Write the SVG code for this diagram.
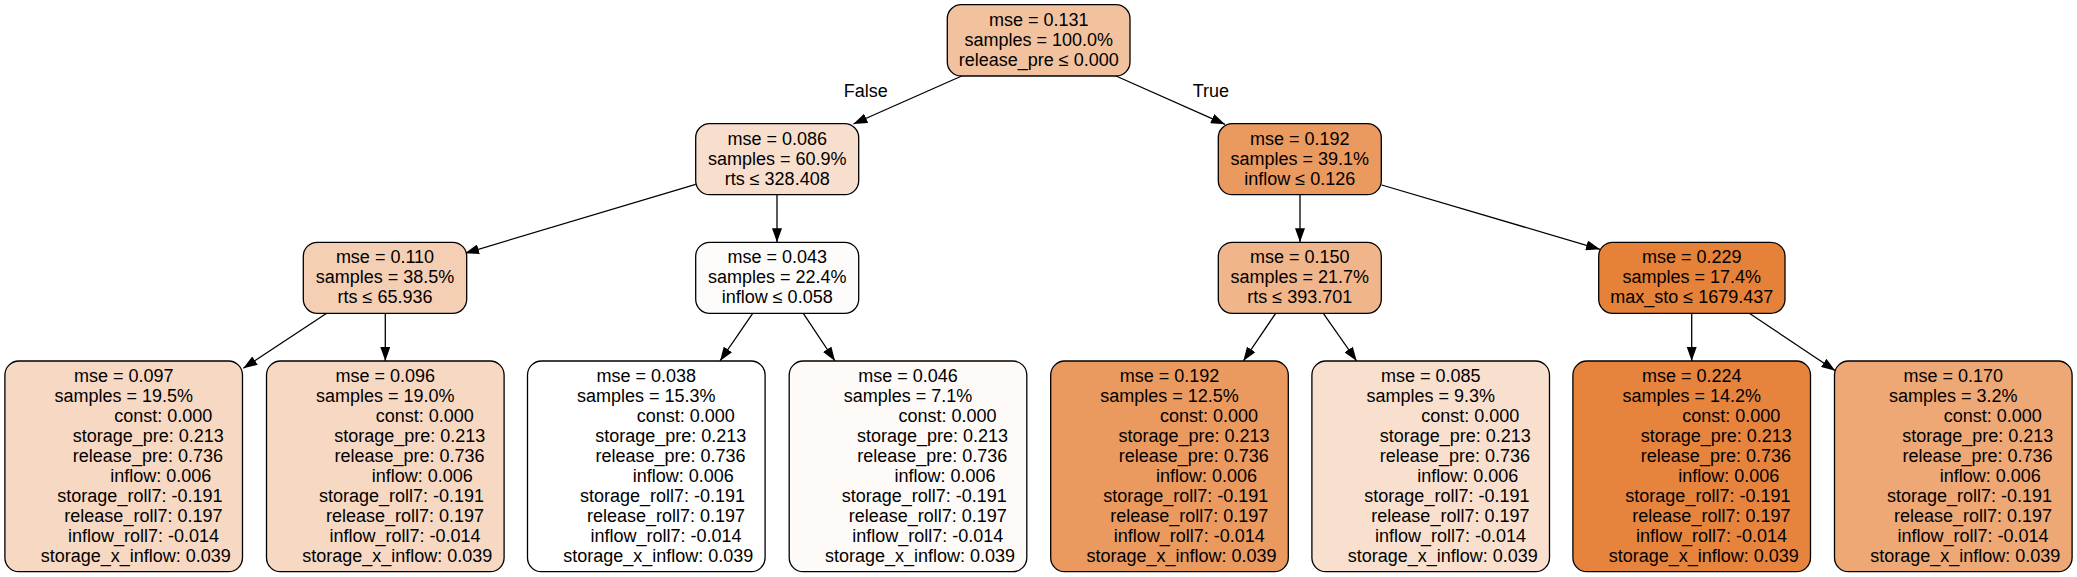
<svg xmlns="http://www.w3.org/2000/svg" width="2077" height="577" viewBox="0 0 2077 577">
<style>
  .box { stroke: #000; stroke-width: 1.3; }
  text { font-family: "Liberation Sans", Arial, Helvetica, sans-serif; font-size: 18px; fill: #000; text-anchor: middle; }
  .edge { stroke: #000; stroke-width: 1.3; fill: none; marker-end: url(#arrow); }
</style>
<defs>
  <marker id="arrow" markerUnits="userSpaceOnUse" markerWidth="14" markerHeight="10" refX="14" refY="5" orient="auto">
    <path d="M0,0 L14,5 L0,10 Z" fill="#000"/>
  </marker>
</defs>
<rect width="2077" height="577" fill="#fff"/>

<g id="connectors">
  <line class="edge" x1="961.7" y1="76" x2="853.3" y2="124"/>
  <line class="edge" x1="1116" y1="76" x2="1225" y2="124.3"/>
  <line class="edge" x1="695.7" y1="184.3" x2="465" y2="253.3"/>
  <line class="edge" x1="777" y1="194.7" x2="777" y2="242.3"/>
  <line class="edge" x1="1300" y1="194.7" x2="1300" y2="242.3"/>
  <line class="edge" x1="1381.7" y1="185" x2="1600" y2="249.3"/>
  <line class="edge" x1="326.7" y1="313.3" x2="243.3" y2="368.3"/>
  <line class="edge" x1="385.3" y1="313.3" x2="385.3" y2="361"/>
  <line class="edge" x1="752.7" y1="313.3" x2="720" y2="361"/>
  <line class="edge" x1="803.3" y1="313.3" x2="835" y2="361"/>
  <line class="edge" x1="1275.7" y1="313.3" x2="1243.3" y2="361"/>
  <line class="edge" x1="1323.3" y1="313.3" x2="1356.7" y2="361"/>
  <line class="edge" x1="1691.7" y1="313.3" x2="1691.7" y2="361"/>
  <line class="edge" x1="1749.3" y1="313.3" x2="1835.3" y2="370.7"/>
  <text x="865.8" y="97.3">False</text>
  <text x="1210.8" y="97.3">True</text>
</g>

<g id="node0">
  <rect class="box" x="947.3" y="4.7" width="182.7" height="71.3" rx="14" fill="#f2c29f"/>
  <text x="1038.7" y="25.5">mse = 0.131</text>
  <text x="1038.7" y="45.5">samples = 100.0%</text>
  <text x="1038.7" y="65.5">release_pre ≤ 0.000</text>
</g>

<g id="node1">
  <rect class="box" x="695.7" y="123.7" width="163" height="71" rx="14" fill="#f8dfcd"/>
  <text x="777.2" y="144.5">mse = 0.086</text>
  <text x="777.2" y="164.5">samples = 60.9%</text>
  <text x="777.2" y="184.5">rts ≤ 328.408</text>
</g>

<g id="node2">
  <rect class="box" x="1218.3" y="123.7" width="163" height="71" rx="14" fill="#ea995f"/>
  <text x="1299.8" y="144.5">mse = 0.192</text>
  <text x="1299.8" y="164.5">samples = 39.1%</text>
  <text x="1299.8" y="184.5">inflow ≤ 0.126</text>
</g>

<g id="node3">
  <rect class="box" x="303.3" y="242.3" width="163.4" height="71" rx="14" fill="#f5cfb4"/>
  <text x="385" y="263.1">mse = 0.110</text>
  <text x="385" y="283.1">samples = 38.5%</text>
  <text x="385" y="303.1">rts ≤ 65.936</text>
</g>

<g id="node4">
  <rect class="box" x="695.7" y="242.3" width="163" height="71" rx="14" fill="#fefcfa"/>
  <text x="777.2" y="263.1">mse = 0.043</text>
  <text x="777.2" y="283.1">samples = 22.4%</text>
  <text x="777.2" y="303.1">inflow ≤ 0.058</text>
</g>

<g id="node5">
  <rect class="box" x="1218.3" y="242.3" width="163" height="71" rx="14" fill="#f0b58b"/>
  <text x="1299.8" y="263.1">mse = 0.150</text>
  <text x="1299.8" y="283.1">samples = 21.7%</text>
  <text x="1299.8" y="303.1">rts ≤ 393.701</text>
</g>

<g id="node6">
  <rect class="box" x="1598.7" y="242.3" width="186.3" height="71" rx="14" fill="#e58139"/>
  <text x="1691.8" y="263.1">mse = 0.229</text>
  <text x="1691.8" y="283.1">samples = 17.4%</text>
  <text x="1691.8" y="303.1">max_sto ≤ 1679.437</text>
</g>

<g id="leaf1">
  <rect class="box" x="4.9" y="361" width="237.6" height="210.7" rx="14" fill="#f7d8c2"/>
  <text x="123.7" y="381.7">mse = 0.097</text>
  <text x="123.7" y="401.7">samples = 19.5%</text>
  <text x="163.2" y="421.7">const: 0.000</text>
  <text x="148.2" y="441.7">storage_pre: 0.213</text>
  <text x="147.9" y="461.7">release_pre: 0.736</text>
  <text x="160.7" y="481.7">inflow: 0.006</text>
  <text x="139.9" y="501.7">storage_roll7: -0.191</text>
  <text x="143.4" y="521.7">release_roll7: 0.197</text>
  <text x="143.5" y="541.7">inflow_roll7: -0.014</text>
  <text x="135.7" y="561.7">storage_x_inflow: 0.039</text>
</g>

<g id="leaf2">
  <rect class="box" x="266.5" y="361" width="237.6" height="210.7" rx="14" fill="#f7d9c3"/>
  <text x="385.3" y="381.7">mse = 0.096</text>
  <text x="385.3" y="401.7">samples = 19.0%</text>
  <text x="424.8" y="421.7">const: 0.000</text>
  <text x="409.8" y="441.7">storage_pre: 0.213</text>
  <text x="409.5" y="461.7">release_pre: 0.736</text>
  <text x="422.3" y="481.7">inflow: 0.006</text>
  <text x="401.5" y="501.7">storage_roll7: -0.191</text>
  <text x="405" y="521.7">release_roll7: 0.197</text>
  <text x="405.1" y="541.7">inflow_roll7: -0.014</text>
  <text x="397.3" y="561.7">storage_x_inflow: 0.039</text>
</g>

<g id="leaf3">
  <rect class="box" x="527.5" y="361" width="237.6" height="210.7" rx="14" fill="#ffffff"/>
  <text x="646.3" y="381.7">mse = 0.038</text>
  <text x="646.3" y="401.7">samples = 15.3%</text>
  <text x="685.8" y="421.7">const: 0.000</text>
  <text x="670.8" y="441.7">storage_pre: 0.213</text>
  <text x="670.5" y="461.7">release_pre: 0.736</text>
  <text x="683.3" y="481.7">inflow: 0.006</text>
  <text x="662.5" y="501.7">storage_roll7: -0.191</text>
  <text x="666" y="521.7">release_roll7: 0.197</text>
  <text x="666.1" y="541.7">inflow_roll7: -0.014</text>
  <text x="658.3" y="561.7">storage_x_inflow: 0.039</text>
</g>

<g id="leaf4">
  <rect class="box" x="789.2" y="361" width="237.6" height="210.7" rx="14" fill="#fefaf7"/>
  <text x="908" y="381.7">mse = 0.046</text>
  <text x="908" y="401.7">samples = 7.1%</text>
  <text x="947.5" y="421.7">const: 0.000</text>
  <text x="932.5" y="441.7">storage_pre: 0.213</text>
  <text x="932.2" y="461.7">release_pre: 0.736</text>
  <text x="945" y="481.7">inflow: 0.006</text>
  <text x="924.2" y="501.7">storage_roll7: -0.191</text>
  <text x="927.7" y="521.7">release_roll7: 0.197</text>
  <text x="927.8" y="541.7">inflow_roll7: -0.014</text>
  <text x="920" y="561.7">storage_x_inflow: 0.039</text>
</g>

<g id="leaf5">
  <rect class="box" x="1050.7" y="361" width="237.6" height="210.7" rx="14" fill="#ea995f"/>
  <text x="1169.5" y="381.7">mse = 0.192</text>
  <text x="1169.5" y="401.7">samples = 12.5%</text>
  <text x="1209" y="421.7">const: 0.000</text>
  <text x="1194" y="441.7">storage_pre: 0.213</text>
  <text x="1193.7" y="461.7">release_pre: 0.736</text>
  <text x="1206.5" y="481.7">inflow: 0.006</text>
  <text x="1185.7" y="501.7">storage_roll7: -0.191</text>
  <text x="1189.2" y="521.7">release_roll7: 0.197</text>
  <text x="1189.3" y="541.7">inflow_roll7: -0.014</text>
  <text x="1181.5" y="561.7">storage_x_inflow: 0.039</text>
</g>

<g id="leaf6">
  <rect class="box" x="1311.9" y="361" width="237.6" height="210.7" rx="14" fill="#f9e0ce"/>
  <text x="1430.7" y="381.7">mse = 0.085</text>
  <text x="1430.7" y="401.7">samples = 9.3%</text>
  <text x="1470.2" y="421.7">const: 0.000</text>
  <text x="1455.2" y="441.7">storage_pre: 0.213</text>
  <text x="1454.9" y="461.7">release_pre: 0.736</text>
  <text x="1467.7" y="481.7">inflow: 0.006</text>
  <text x="1446.9" y="501.7">storage_roll7: -0.191</text>
  <text x="1450.4" y="521.7">release_roll7: 0.197</text>
  <text x="1450.5" y="541.7">inflow_roll7: -0.014</text>
  <text x="1442.7" y="561.7">storage_x_inflow: 0.039</text>
</g>

<g id="leaf7">
  <rect class="box" x="1572.9" y="361" width="237.6" height="210.7" rx="14" fill="#e6843e"/>
  <text x="1691.7" y="381.7">mse = 0.224</text>
  <text x="1691.7" y="401.7">samples = 14.2%</text>
  <text x="1731.2" y="421.7">const: 0.000</text>
  <text x="1716.2" y="441.7">storage_pre: 0.213</text>
  <text x="1715.9" y="461.7">release_pre: 0.736</text>
  <text x="1728.7" y="481.7">inflow: 0.006</text>
  <text x="1707.9" y="501.7">storage_roll7: -0.191</text>
  <text x="1711.4" y="521.7">release_roll7: 0.197</text>
  <text x="1711.5" y="541.7">inflow_roll7: -0.014</text>
  <text x="1703.7" y="561.7">storage_x_inflow: 0.039</text>
</g>

<g id="leaf8">
  <rect class="box" x="1834.5" y="361" width="237.6" height="210.7" rx="14" fill="#eda876"/>
  <text x="1953.3" y="381.7">mse = 0.170</text>
  <text x="1953.3" y="401.7">samples = 3.2%</text>
  <text x="1992.8" y="421.7">const: 0.000</text>
  <text x="1977.8" y="441.7">storage_pre: 0.213</text>
  <text x="1977.5" y="461.7">release_pre: 0.736</text>
  <text x="1990.3" y="481.7">inflow: 0.006</text>
  <text x="1969.5" y="501.7">storage_roll7: -0.191</text>
  <text x="1973" y="521.7">release_roll7: 0.197</text>
  <text x="1973.1" y="541.7">inflow_roll7: -0.014</text>
  <text x="1965.3" y="561.7">storage_x_inflow: 0.039</text>
</g>
</svg>
